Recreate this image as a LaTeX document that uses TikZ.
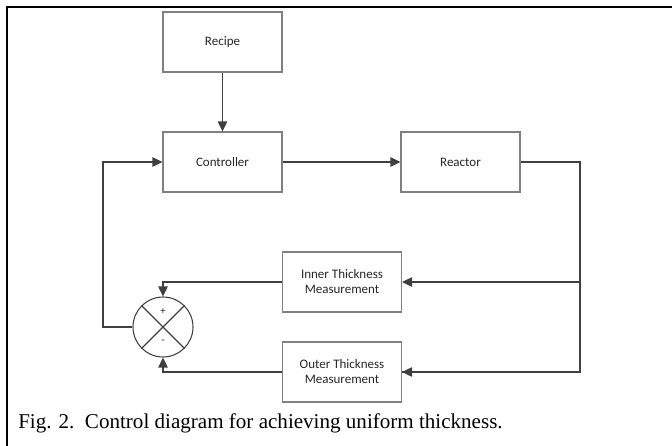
\documentclass[tikz,border=0pt]{standalone}
\usepackage{fontspec}
\setmainfont{Liberation Serif}
\newfontfamily\boxfont{Carlito}
\usetikzlibrary{arrows.meta}
\definecolor{linegray}{HTML}{404040}
\definecolor{boxgray}{HTML}{808080}
\tikzset{
  blockbox/.style={draw=boxgray, line width=0.8pt, minimum width=89.25pt, minimum height=45pt,
    inner sep=1pt, align=center, font=\boxfont\fontsize{9.75}{11.25}\selectfont, text=black!85},
  conn/.style={draw=linegray, line width=1.1pt},
  arr/.style={conn, -{Triangle[length=7.5pt,width=7pt]}},
  sumnode/.style={circle, draw=linegray, line width=0.8pt, minimum size=45pt, inner sep=0pt},
  signlabel/.style={font=\boxfont\fontsize{8}{9}\selectfont, text=black!85, inner sep=0pt},
  frameline/.style={draw=black, line width=1.9pt}
}
\begin{document}
\begin{tikzpicture}[x=0.75pt, y=-0.75pt]
\useasboundingbox (0,0) rectangle (672,446);
% frame
\draw[frameline] (7,446) -- (7,7) -- (672,7);
% blocks
\node[blockbox] (recipe) at (222.5,42) {Recipe};
\node[blockbox] (controller) at (222.5,162) {Controller};
\node[blockbox] (reactor) at (460.5,162) {Reactor};
\node[blockbox] (inner) at (342,282) {Inner Thickness\\Measurement};
\node[blockbox] (outer) at (342,372) {Outer Thickness\\Measurement};
% summing junction
\node[sumnode] (sum) at (163,327) {};
\draw[draw=linegray, line width=0.8pt] (sum.north west) -- (sum.south east);
\draw[draw=linegray, line width=0.8pt] (sum.north east) -- (sum.south west);
\node[signlabel] (plus) at (163,312) {+};
\node[signlabel] (minus) at (163,342) {-};
% coordinates
\coordinate (rj) at (580,162);
\coordinate (lj) at (103,327);
% connectors
\draw[arr] (recipe) -- (controller);
\draw[arr] (controller) -- (reactor);
\draw[conn] (reactor.east) -- (rj) |- (outer.east);
\draw[arr] (rj |- outer.east) -- (outer.east);
\draw[arr] (rj |- inner.east) -- (inner.east);
\draw[arr] (inner.west) -| (sum.north);
\draw[arr] (outer.west) -| (sum.south);
\draw[arr] (sum.west) -- (lj) |- (controller.west);
% caption
\node[anchor=base west, inner sep=0pt, font=\fontsize{15.8}{18}\selectfont] (caption) at (18,428)
  {Fig. 2.\hspace{0.5em}Control diagram for achieving uniform thickness.};
\end{tikzpicture}
\end{document}
